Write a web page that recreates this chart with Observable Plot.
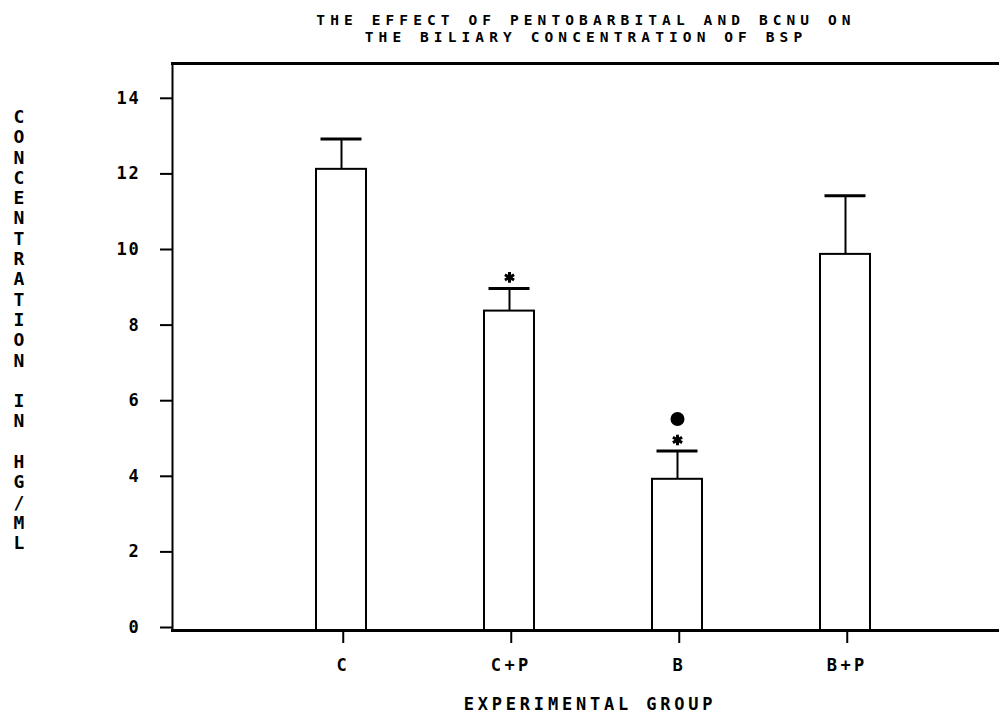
<!DOCTYPE html>
<html>
<head>
<meta charset="utf-8">
<script src="https://cdn.jsdelivr.net/npm/d3@7"></script>
<script src="https://cdn.jsdelivr.net/npm/@observablehq/plot@0.6"></script>
<style>
  body { margin: 0; background: #fff; }
  svg text { font-family: "DejaVu Sans Mono", monospace; font-weight: bold; fill: #000; }
  g[aria-label="x-axis tick label"] text { letter-spacing: 3.5px; }
  g[aria-label="y-axis tick label"] text { letter-spacing: 1.8px; }
</style>
</head>
<body>
<div id="chart"></div>
<script>
// Experimental groups and biliary BSP concentration (mg/ml), mean and SEM
const groups = ["C", "C+P", "B", "B+P"];
const means = [12.2, 8.45, 4.0, 9.95];
const sems = [0.8, 0.6, 0.75, 1.55];
const yTicks = [0, 2, 4, 6, 8, 10, 12, 14];

// Significance markers drawn above the error bars
const starGroups = ["C+P", "B"];
const dotGroups = ["B"];

const titleText = "THE EFFECT OF PENTOBARBITAL AND BCNU ON\nTHE BILIARY CONCENTRATION OF BSP";
const yLabel = "CONCENTRATION IN HG/ML";
const xLabel = "EXPERIMENTAL GROUP";

const rows = groups.map((g, i) => ({group: g, mean: means[i], top: means[i] + sems[i]}));
const topOf = g => rows.find(r => r.group === g).top;
const stars = starGroups.map(g => ({group: g, y: topOf(g)}));
const dots = dotGroups.map(g => ({group: g, y: topOf(g)}));

const chart = Plot.plot({
  width: 999,
  height: 716,
  marginLeft: 172,
  marginRight: 0,
  marginTop: 63,
  marginBottom: 86,
  x: {type: "band", domain: groups, range: [257, 929], paddingInner: 0.702, paddingOuter: 0.351, align: 0.5},
  y: {domain: [0, 15]},
  marks: [
    Plot.barY(rows, {x: "group", y: "mean", fill: "white", stroke: "black", strokeWidth: 2}),
    Plot.ruleX(rows, {x: "group", y1: "mean", y2: "top", stroke: "black", strokeWidth: 2}),
    Plot.tickY(rows, {x: "group", y: "top", stroke: "black", strokeWidth: 3, insetLeft: 4.5, insetRight: 4.5}),
    Plot.dot(stars, {x: "group", y: "y", dy: -11, symbol: "asterisk", r: 5, stroke: "black", strokeWidth: 3}),
    Plot.dot(dots, {x: "group", y: "y", dy: -32, r: 7, fill: "black", stroke: "none"}),
    Plot.frame({anchor: "left", stroke: "black", strokeWidth: 2}),
    Plot.frame({anchor: "top", stroke: "black", strokeWidth: 3}),
    Plot.frame({anchor: "bottom", stroke: "black", strokeWidth: 3}),
    Plot.axisY({ticks: yTicks, tickSize: 12, tickPadding: 20, fontSize: 17, strokeWidth: 2, dy: -3, label: null, tickFormat: d => String(d)}),
    Plot.axisX({tickSize: 13, tickPadding: 15, fontSize: 17, strokeWidth: 2, dx: 1.75, label: null}),
    Plot.text([titleText], {frameAnchor: "top", lineAnchor: "top", dy: -51, dx: 0, fontSize: 14.5, lineHeight: 1.18}),
    Plot.text([xLabel], {frameAnchor: "bottom", lineAnchor: "top", dy: 67, dx: 4, fontSize: 17}),
    Plot.text([yLabel.split("").join("\n")], {frameAnchor: "left", lineAnchor: "top", dx: -159, dy: -238.5, fontSize: 18, lineHeight: 1.128})
  ]
});

// Wide plotter-style letter spacing for the title and the x axis label
d3.select(chart).selectAll("text").each(function() {
  const t = this.textContent;
  if (t.startsWith("THE EFFECT")) this.style.letterSpacing = "5.1px";
  else if (t === xLabel) this.style.letterSpacing = "3.8px";
});

document.getElementById("chart").appendChild(chart);
</script>
</body>
</html>
